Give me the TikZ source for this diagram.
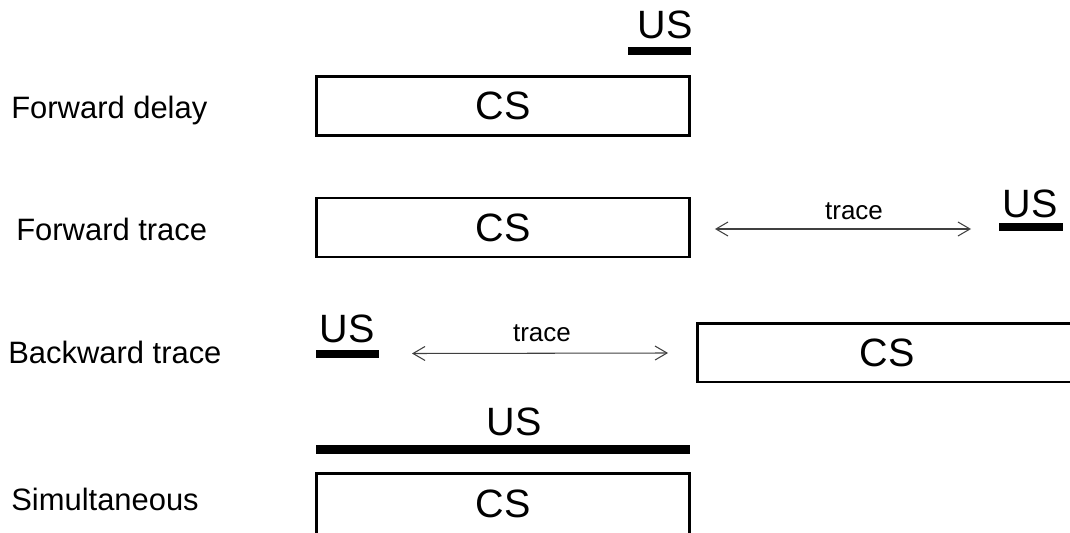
\documentclass[tikz,border=0pt]{standalone}
\usepackage{fontspec}
\setmainfont{Liberation Sans}
\usetikzlibrary{arrows.meta,calc,positioning}
\tikzset{
  rowlbl/.style={anchor=base west, inner sep=0pt, font=\fontsize{17.6}{20}\selectfont},
  csbox/.style={draw, line width=1.7pt, outer sep=0pt, minimum width=7.48cm, minimum height=1.17cm, font=\fontsize{22.5}{26}\selectfont},
  usbar/.style={fill=black, inner sep=0pt, outer sep=0pt, minimum height=0.16cm},
  ustxt/.style={inner sep=0pt, font=\fontsize{22.5}{26}\selectfont},
  tracearr/.style={draw=black!75, line width=0.6pt, {Straight Barb[length=0.24cm,width=0.28cm]}-{Straight Barb[length=0.24cm,width=0.28cm]}},
  tracetxt/.style={inner sep=0pt, font=\fontsize{14.8}{17}\selectfont}
}
\begin{document}
\begin{tikzpicture}[x=0.02cm,y=-0.02cm]
\useasboundingbox (0,0) rectangle (1070,533);
\clip (0,0) rectangle (1070,533);

\node[rowlbl] (l1) at (11,119) {Forward delay};
\node[csbox] (cs1) at (503,106) {CS};
\node[usbar, minimum width=1.26cm] (bar1) at (659.5,51) {};
\node[ustxt] (us1) at (665,25) {US};

\node[rowlbl] (l2) at (16,241) {Forward trace};
\node[csbox, minimum height=1.18cm] (cs2) at (503,227.5) {CS};
\node[usbar, minimum width=1.28cm] (bar2) at (1031,227.5) {};
\node[ustxt] (us2) at (1030,204) {US};
\draw[tracearr] ($(cs2.east)+(25,1.5)$) -- ($(bar2.west)+(-28,1.5)$);
\node[tracetxt] (tr2) at (854,211) {trace};

\node[rowlbl] (l3) at (8,363) {Backward trace};
\node[usbar, minimum width=1.26cm] (bar3) at (347.5,353.5) {};
\node[ustxt] (us3) at (347,329) {US};
\node[csbox, minimum width=7.6cm, minimum height=1.18cm] (cs3) at (887,352.5) {CS};
\draw[tracearr] ($(bar3.east)+(33,0)$) -- ($(cs3.west)+(-29,0.5)$);
\node[tracetxt] (tr3) at (542,333) {trace};

\node[rowlbl] (l4) at (11,510) {Simultaneous};
\node[usbar, minimum width=7.48cm, minimum height=0.18cm] (bar4) at (503,449.5) {};
\node[ustxt] (us4) at (514,422) {US};
\node[csbox, minimum height=1.24cm] (cs4) at (503,504) {CS};
\end{tikzpicture}
\end{document}
